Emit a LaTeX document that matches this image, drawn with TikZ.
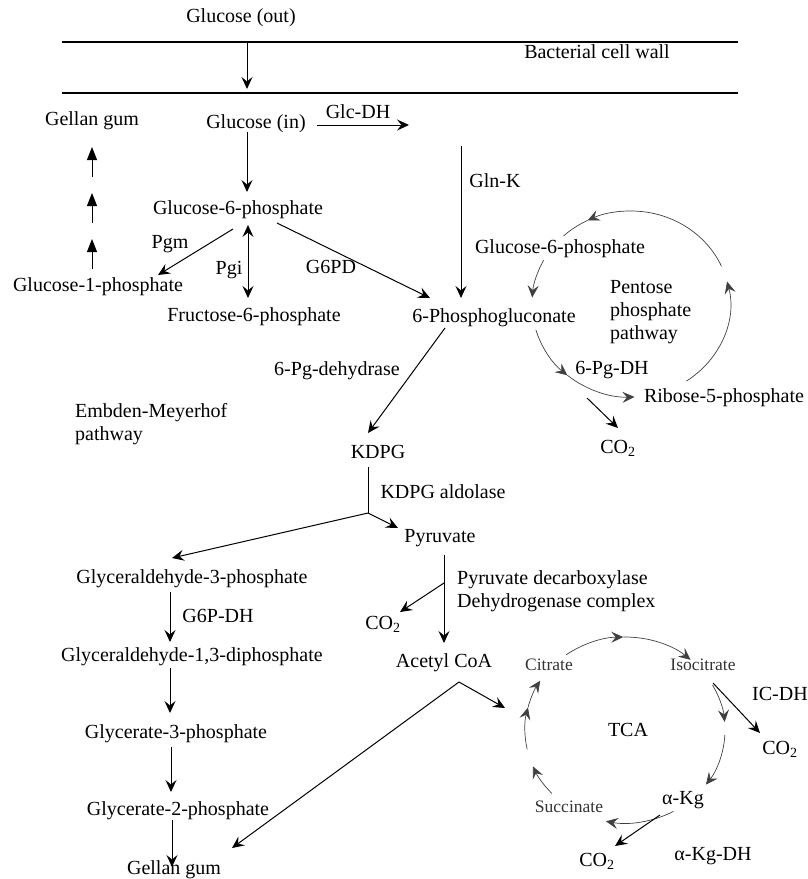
\documentclass[tikz,border=0pt]{standalone}
\usepackage{fontspec}
\setmainfont{Liberation Serif}
\usetikzlibrary{arrows.meta}
\begin{document}
\begin{tikzpicture}[x=1pt,y=-1pt,
  >={Stealth[length=12pt,width=11pt,inset=4.5pt]},
  lbl/.style={font=\fontsize{20}{24}\selectfont, inner sep=0pt, text height=14pt, text depth=4pt},
  multi/.style={font=\fontsize{20}{23}\selectfont, inner sep=0pt, align=left, anchor=west},
  small/.style={font=\fontsize{17.5}{21}\selectfont, inner sep=0pt, text height=12pt, text depth=3.5pt, text=black!80},
  arr/.style={line width=1pt, ->},
  uparr/.style={line width=1pt, -{Triangle[length=13pt,width=10pt]}},
  plain/.style={line width=1pt},
  cyc/.style={line width=0.7pt, draw=black!75, ->},
  cycplain/.style={line width=0.7pt, draw=black!75},
  wallline/.style={line width=1.2pt}]
\useasboundingbox (0,0) rectangle (808,879);

% ---- cell wall ----
\node[lbl] (gout) at (241,17) {Glucose (out)};
\node[lbl] (wall) at (597,53) {Bacterial cell wall};
\coordinate (wL1) at (62,42); \coordinate (wR1) at (738,42);
\coordinate (wL2) at (62,93); \coordinate (wR2) at (738,93);
\draw[wallline] (wL1) -- (wR1);
\draw[wallline] (wL2) -- (wR2);
\coordinate (tA) at (247,42); \coordinate (tB) at (247,89);
\draw[arr] (tA) -- (tB);

% ---- upper part ----
\node[lbl] (gg1) at (92,120) {Gellan gum};
\node[lbl] (gin) at (256,123) {Glucose (in)};
\node[lbl] (glcdh) at (358,113) {Glc-DH};
\coordinate (gdA) at (317,125); \coordinate (gdB) at (409,125);
\draw[arr] (gdA) -- (gdB);
\node[lbl] (glnk) at (495,182) {Gln-K};
\coordinate (gkA) at (461,146); \coordinate (gkB) at (461,298);
\draw[arr] (gkA) -- (gkB);
\coordinate (giA) at (247,132); \coordinate (giB) at (247,192);
\draw[arr] (giA) -- (giB);

\coordinate (u1A) at (92,177); \coordinate (u1B) at (92,147);
\coordinate (u2A) at (92,223); \coordinate (u2B) at (92,193);
\coordinate (u3A) at (92,269); \coordinate (u3B) at (92,239);
\draw[uparr] (u1A) -- (u1B);
\draw[uparr] (u2A) -- (u2B);
\draw[uparr] (u3A) -- (u3B);

\node[lbl] (g6p) at (238,209) {Glucose-6-phosphate};
\node[lbl] (pgm) at (170,243) {Pgm};
\node[lbl] (pgi) at (229,269) {Pgi};
\node[lbl] (g6pd) at (331,268) {G6PD};
\node[lbl] (g1p) at (98,286) {Glucose-1-phosphate};
\node[lbl] (f6p) at (254,316) {Fructose-6-phosphate};
\node[lbl] (pg) at (494,317) {6-Phosphogluconate};
\coordinate (pmA) at (233,229); \coordinate (pmB) at (158,275);
\draw[arr] (pmA) -- (pmB);
\coordinate (piA) at (248,225); \coordinate (piB) at (248,298);
\draw[line width=1pt,<->] (piA) -- (piB);
\coordinate (gpA) at (277,223); \coordinate (gpB) at (430,298);
\draw[arr] (gpA) -- (gpB);

% ---- pentose phosphate cycle ----
\node[lbl] (g6p2) at (560,248) {Glucose-6-phosphate};
\node[multi] (ppp) at (610,312) {Pentose\\phosphate\\pathway};
\node[lbl] (pgdh) at (612,369) {6-Pg-DH};
\node[lbl] (r5p) at (724,397) {Ribose-5-phosphate};
\node[lbl] (co2a) at (618,448) {CO\textsubscript{2}};
\coordinate (ppc) at (631,304);
\draw[cyc] (ppc) ++(-24:99 and 93) arc[start angle=-24,end angle=-116,x radius=99,y radius=93];
\draw[cycplain] (ppc) ++(-116:99 and 93) arc[start angle=-116,end angle=-133,x radius=99,y radius=93];
\draw[cyc] (ppc) ++(-152:99 and 93) arc[start angle=-152,end angle=-176,x radius=99,y radius=93];
\draw[cyc] (ppc) ++(-196:99 and 93) arc[start angle=-196,end angle=-230,x radius=99,y radius=93];
\draw[cyc] (ppc) ++(-230:99 and 93) arc[start angle=-230,end angle=-272,x radius=99,y radius=93];
\draw[cyc] (ppc) ++(-304:99 and 93) arc[start angle=-304,end angle=-374,x radius=99,y radius=93];
\coordinate (caA) at (587,398); \coordinate (caB) at (618,428);
\draw[arr] (caA) -- (caB);

% ---- Entner-Doudoroff ----
\node[lbl] (pgdeh) at (337,370) {6-Pg-dehydrase};
\node[multi] (emp) at (75,424) {Embden-Meyerhof\\pathway};
\node[lbl] (kdpg) at (378,453) {KDPG};
\node[lbl] (kald) at (443,493) {KDPG aldolase};
\node[lbl] (pyr) at (440,537) {Pyruvate};
\coordinate (pdA) at (445,328); \coordinate (pdB) at (368,433);
\draw[arr] (pdA) -- (pdB);
\coordinate (kA) at (368,467); \coordinate (kJ) at (368,513);
\coordinate (kG) at (172,558); \coordinate (kP) at (398,528);
\draw[plain] (kA) -- (kJ);
\draw[arr] (kJ) -- (kG);
\draw[arr] (kJ) -- (kP);

% ---- pyruvate / acetyl CoA ----
\node[multi] (pdc) at (457,591) {Pyruvate decarboxylase\\Dehydrogenase complex};
\node[lbl] (co2b) at (383,624) {CO\textsubscript{2}};
\node[lbl] (acoa) at (444,662) {Acetyl CoA};
\coordinate (pyA) at (444,555); \coordinate (pyB) at (444,643);
\draw[arr] (pyA) -- (pyB);
\coordinate (pyJ) at (444,583); \coordinate (pyC) at (400,612);
\draw[arr] (pyJ) -- (pyC);
\coordinate (acV) at (459,682); \coordinate (acT) at (505,708);
\coordinate (acG) at (232,848);
\draw[arr] (acV) -- (acT);
\draw[arr] (acV) -- (acG);

% ---- glycolysis column ----
\node[lbl] (g3p) at (192,578) {Glyceraldehyde-3-phosphate};
\node[lbl] (g6pdh) at (218,617) {G6P-DH};
\node[lbl] (g13) at (192,656) {Glyceraldehyde-1,3-diphosphate};
\node[lbl] (gl3) at (176,733) {Glycerate-3-phosphate};
\node[lbl] (gl2) at (178,810) {Glycerate-2-phosphate};
\node[lbl] (gg2) at (174,869) {Gellan gum};
\coordinate (c1A) at (170,592); \coordinate (c1B) at (170,642);
\coordinate (c2A) at (170,668); \coordinate (c2B) at (170,713);
\coordinate (c3A) at (171,747); \coordinate (c3B) at (171,792);
\coordinate (c4A) at (172,820); \coordinate (c4B) at (172,867);
\draw[arr] (c1A) -- (c1B);
\draw[arr] (c2A) -- (c2B);
\draw[arr] (c3A) -- (c3B);
\draw[arr] (c4A) -- (c4B);

% ---- TCA cycle ----
\node[small] (cit) at (549,666) {Citrate};
\node[small] (iso) at (703,666) {Isocitrate};
\node[small] (suc) at (569,808) {Succinate};
\node[lbl] (tca) at (628,731) {TCA};
\node[lbl] (icdh) at (780,695) {IC-DH};
\node[lbl] (co2c) at (780,749) {CO\textsubscript{2}};
\node[lbl] (akg) at (683,799) {α-Kg};
\node[lbl] (co2d) at (597,861) {CO\textsubscript{2}};
\node[lbl] (akgdh) at (713,855) {α-Kg-DH};
\coordinate (tc) at (625,730);
\draw[cyc] (tc) ++(-126:100 and 93) arc[start angle=-126,end angle=-91,x radius=100,y radius=93];
\draw[cyc] (tc) ++(-91:100 and 93) arc[start angle=-91,end angle=-49,x radius=100,y radius=93];
\draw[cyc] (tc) ++(-29:100 and 93) arc[start angle=-29,end angle=-5,x radius=100,y radius=93];
\draw[cyc] (tc) ++(3:100 and 93) arc[start angle=3,end angle=36,x radius=100,y radius=93];
\draw[cyc] (tc) ++(61:100 and 93) arc[start angle=61,end angle=101,x radius=100,y radius=93];
\draw[cyc] (tc) ++(137:100 and 93) arc[start angle=137,end angle=157,x radius=100,y radius=93];
\draw[cyc] (tc) ++(168:100 and 93) arc[start angle=168,end angle=194,x radius=100,y radius=93];
\draw[cyc] (tc) ++(194:100 and 93) arc[start angle=194,end angle=212,x radius=100,y radius=93];
\coordinate (icA) at (713,683); \coordinate (icB) at (760,733);
\draw[arr] (icA) -- (icB);
\coordinate (akA) at (660,815); \coordinate (akB) at (615,846);
\draw[arr] (akA) -- (akB);
\end{tikzpicture}
\end{document}
